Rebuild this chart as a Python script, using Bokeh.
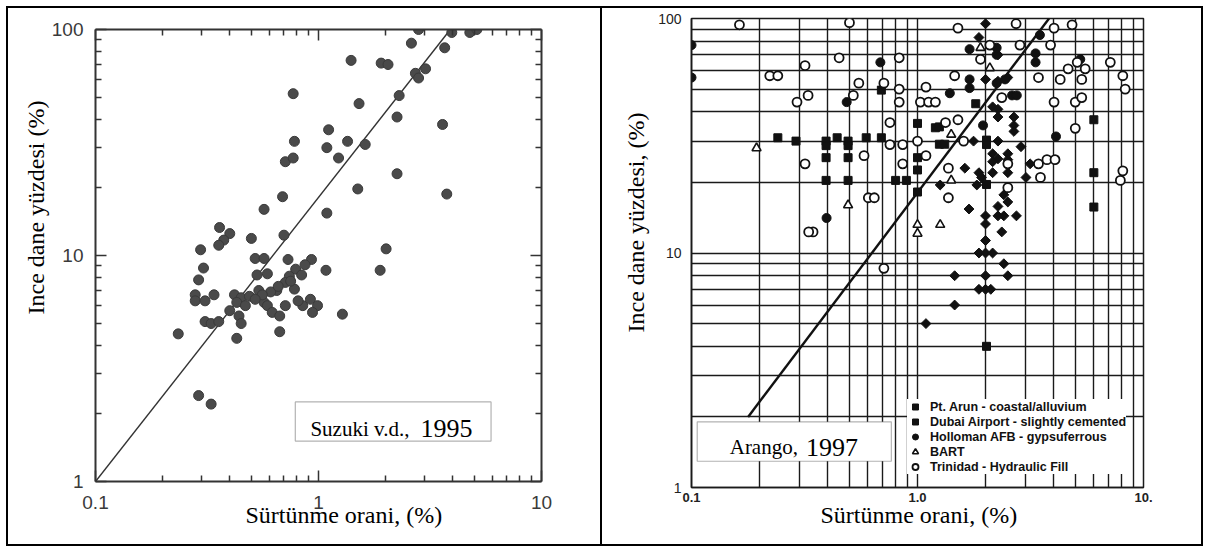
import math
from bokeh.plotting import figure
from bokeh.models import (LogAxis, FixedTicker, Label, BoxAnnotation, Legend, LegendItem,
                          Range1d, Title)
from bokeh.embed import file_html
from bokeh.resources import INLINE

# ------------------------------------------------------------------ data
# Left panel: Suzuki v.d., 1995  (x = friction ratio %, y = fines content %)
suzuki_x = [2.81, 3.96, 4.77, 5.13, 2.61, 3.68, 1.40, 1.91, 2.05, 3.02, 2.72, 2.81,
            0.77, 2.30, 1.52, 2.25, 3.60, 1.11, 0.78, 1.09, 1.35, 1.62, 1.23, 0.71,
            0.77, 2.25, 1.50, 3.76, 0.69, 0.57, 1.09, 0.36, 0.40, 0.376, 0.357, 0.50,
            0.70, 0.296, 2.01, 0.52, 0.57, 0.73, 0.93, 0.305, 1.08, 1.89, 0.87, 0.79,
            0.53, 0.59, 0.74, 0.84, 0.29, 0.71, 0.78, 0.65, 0.61, 0.54, 0.28, 0.28,
            0.34, 0.31, 0.42, 0.45, 0.49, 0.57, 0.59, 0.43, 0.71, 0.85, 0.92, 0.99,
            0.94, 0.62, 0.67, 1.28, 0.40, 0.44, 0.45, 0.31, 0.33, 0.357, 0.235, 0.43,
            0.67, 0.29, 0.33, 0.66, 0.75, 0.56, 0.81, 0.52, 0.47]
suzuki_y = [100, 97, 97, 100, 87, 83, 73, 71, 70, 67, 64, 61,
            52, 51, 47, 41, 38, 36, 32, 30, 32, 31, 27, 26,
            27, 23, 19.7, 18.7, 18.2, 16.0, 15.4, 13.3, 12.5, 11.7, 11.1, 11.9,
            12.3, 10.6, 10.7, 9.7, 9.7, 9.6, 9.6, 8.8, 8.6, 8.6, 9.1, 8.7,
            8.2, 8.3, 8.1, 8.2, 7.8, 7.6, 7.1, 7.0, 6.9, 7.0, 6.7, 6.3,
            6.7, 6.3, 6.7, 6.5, 6.6, 6.2, 6.0, 6.2, 6.0, 6.0, 6.4, 6.0,
            5.6, 5.6, 5.4, 5.5, 5.7, 5.4, 5.0, 5.1, 5.0, 5.1, 4.5, 4.3,
            4.6, 2.4, 2.2, 7.3, 7.7, 6.7, 6.3, 6.4, 6.0]
suzuki_line_x = [0.1, 3.9]
suzuki_line_y = [1, 100]

left_ticks_x = [0.1, 1, 10]
left_labels_x = ["0.1", "1", "10"]
left_ticks_y = [1, 10, 100]
left_labels_y = ["1", "10", "100"]

# Right panel: Arango, 1997
arun_x = [2.0, 1.87, 2.27, 2.0, 2.27, 2.51, 2.15, 2.27, 2.27, 2.67, 2.67, 2.67, 1.77,
          2.27, 2.87, 2.15, 2.27, 2.15, 2.51, 2.51, 2.51, 2.15, 1.62, 1.87, 1.92, 1.83,
          1.26, 3.15, 3.02, 2.41, 2.51, 2.27, 1.69, 2.27, 2.41, 2.74, 2.0, 2.0, 2.36,
          2.0, 1.87, 2.0, 2.15, 2.41, 1.46, 2.0, 2.51, 1.87, 2.0, 2.11, 1.46, 1.09]
arun_y = [95, 83, 70, 55, 54, 56, 42, 41, 38, 38, 35, 33, 30,
          30, 28.4, 26.5, 25.2, 24.5, 26.5, 25, 22, 22, 23, 22, 21, 19.5,
          19.5, 24, 21, 17.7, 16.5, 15.8, 15.4, 14.4, 14.4, 14.4, 14.4, 13.3, 12.3,
          11.3, 10, 10, 10, 9, 8, 8, 8, 7, 7, 7, 6, 5]

dubai_x = [0.241, 0.29, 0.394, 0.394, 0.441, 0.493, 0.493, 0.593, 0.692, 0.394, 0.493,
           0.394, 0.493, 0.692, 1.0, 1.0, 1.0, 0.80, 0.893, 1.0, 1.20, 1.25, 1.25, 1.32,
           1.81, 2.02, 2.02, 2.02, 6.03, 6.03, 6.03, 2.02]
dubai_y = [31, 30, 30, 28.7, 31, 30, 28.7, 31, 31, 25.5, 25.5,
           20.4, 20.4, 49.5, 35.7, 25.5, 22.6, 20.4, 20.4, 18.2, 34.2, 34.5, 29.1, 29.1,
           43.3, 30.3, 29, 19.6, 37, 22, 15.7, 4.0]

holloman_x = [0.1, 0.1, 0.685, 0.486, 0.396, 1.70, 2.24, 3.33, 3.33, 3.48, 1.70, 1.39,
              1.70, 2.44, 2.24, 2.62, 2.75, 1.95, 4.10, 5.25, 2.24]
holloman_y = [77, 56, 65, 44, 14.1, 74, 70, 71, 65, 85, 55, 48,
              50.5, 55, 53, 47, 47, 35, 31.4, 67, 75]

bart_x = [0.194, 0.493, 1.41, 1.41, 1.0, 1.0, 1.26, 2.09, 1.90]
bart_y = [28, 16, 32, 20.4, 13.2, 12.1, 13.2, 61.5, 75]

trinidad_x = [0.163, 0.50, 1.51, 2.73, 4.02, 4.83, 2.09, 2.84, 3.88, 1.90, 0.45, 0.83,
              0.318, 0.222, 0.241, 0.55, 0.71, 1.46, 3.43, 4.28, 4.64, 5.09, 5.52, 5.33,
              7.13, 8.1, 8.3, 0.293, 0.328, 0.52, 0.83, 0.83, 1.09, 1.03, 1.12, 1.20,
              2.36, 4.02, 4.99, 5.33, 1.51, 1.33, 0.755, 4.99, 0.755, 0.86, 1.0, 1.60,
              0.58, 0.318, 0.86, 1.09, 1.37, 2.51, 3.43, 3.74, 4.06, 3.5, 2.51, 8.1,
              7.9, 1.37, 0.606, 0.644, 0.345, 0.33, 0.71]
trinidad_y = [94, 96, 91, 95, 91, 94, 77, 77, 77, 67, 68, 68,
              63, 57, 57, 53, 53, 57, 56, 55, 61, 65, 61, 55,
              65, 57, 50, 44, 47, 47, 50, 44, 51, 44, 44, 44,
              46, 44, 44, 46, 37, 36, 36, 34, 29, 29, 30, 30,
              26, 24, 24, 26, 23, 24, 24, 25, 25, 21, 19, 22.4,
              20.4, 17.2, 17.2, 17.2, 12.3, 12.3, 8.6]

arango_line_x = [0.178, 3.82]
arango_line_y = [2, 100]

right_ticks_x = [0.1, 1, 10]
right_labels_x = ["0.1", "1.0", "10."]
right_ticks_y = [1, 10, 100]
right_labels_y = ["1", "10", "100"]

legend_labels = ["Pt. Arun - coastal/alluvium", "Dubai Airport - slightly cemented",
                 "Holloman AFB - gypsuferrous", "BART", "Trinidad - Hydraulic Fill"]

x_title = "Sürtünme orani, (%)"
y_title_left = "Ince dane yüzdesi (%)"
y_title_right = "Ince dane yüzdesi, (%)"

# ------------------------------------------------------------------ helpers
def minor_between(lo_exp, hi_exp):
    return [m * 10.0 ** e for e in range(lo_exp, hi_exp) for m in range(2, 10)]

SERIF = "Liberation Serif"
SANS = "Liberation Sans"
INK = "#1a1a1a"

def axis_title(text, offset, standoff):
    return Title(text=text, align="left", offset=offset, standoff=standoff,
                 text_font=SERIF, text_font_size="24px", text_font_style="normal",
                 text_color="black")

# ------------------------------------------------------------------ left panel
p1 = figure(width=592, height=536, x_axis_type="log", y_axis_type="log",
            x_range=Range1d(0.1, 10), y_range=Range1d(1, 100), title=None,
            output_backend="svg", toolbar_location=None,
            min_border_left=87, min_border_right=63, min_border_top=21, min_border_bottom=67)
p1.styles = {"position": "absolute", "left": "6px", "top": "6px",
             "border": "2px solid black", "box-sizing": "content-box"}
p1.grid.visible = False
p1.outline_line_color = None
p1.background_fill_color = "white"

xt1 = FixedTicker(ticks=left_ticks_x, minor_ticks=minor_between(-1, 1))
yt1 = FixedTicker(ticks=left_ticks_y, minor_ticks=minor_between(0, 2))

def style_left_axis(ax, show_labels):
    ax.axis_line_color = "#333333"
    ax.axis_line_width = 2
    ax.major_tick_in = 11
    ax.major_tick_out = 0
    ax.minor_tick_in = 6
    ax.minor_tick_out = 0
    ax.major_tick_line_color = "#333333"
    ax.major_tick_line_width = 1.5
    ax.minor_tick_line_color = "#333333"
    ax.minor_tick_line_width = 1.5
    if show_labels:
        ax.major_label_text_font = SANS
        ax.major_label_text_font_size = "19px"
        ax.major_label_text_color = "#3a3a3a"
    else:
        ax.major_label_text_font_size = "8px"
        ax.major_label_text_alpha = 0.0
        ax.major_label_standoff = 2

p1.xaxis.ticker = xt1
p1.yaxis.ticker = yt1
p1.xaxis.major_label_overrides = dict(zip(left_ticks_x, left_labels_x))
p1.yaxis.major_label_overrides = dict(zip(left_ticks_y, left_labels_y))
style_left_axis(p1.xaxis[0], True)
style_left_axis(p1.yaxis[0], True)
p1.xaxis.major_label_standoff = 14
p1.yaxis.major_label_standoff = 12

top1 = LogAxis(ticker=xt1)
right1 = LogAxis(ticker=yt1)
style_left_axis(top1, False)
style_left_axis(right1, False)
p1.add_layout(top1, "above")
p1.add_layout(right1, "right")

p1.add_layout(axis_title(y_title_left, 167, 0), "left")
p1.add_layout(axis_title(x_title, 150, -24), "below")

p1.line(suzuki_line_x, suzuki_line_y, line_color="#333333", line_width=1.4)
p1.scatter(suzuki_x, suzuki_y, marker="circle", size=10,
           fill_color="#4a4a4a", line_color="#3a3a3a", line_width=1)

p1.add_layout(BoxAnnotation(left=0.787, right=5.94, bottom=1.51, top=2.25,
                            fill_color="white", fill_alpha=1.0,
                            line_color="black", line_width=1.2))
p1.add_layout(Label(x=0.92, y=1.71, text="Suzuki v.d.,", text_font=SERIF,
                    text_font_size="21px", text_color="black", text_baseline="alphabetic"))
p1.add_layout(Label(x=2.87, y=1.71, text="1995", text_font=SERIF,
                    text_font_size="26px", text_color="black", text_baseline="alphabetic"))

# ------------------------------------------------------------------ right panel
p2 = figure(width=599, height=536, x_axis_type="log", y_axis_type="log",
            x_range=Range1d(0.1, 10), y_range=Range1d(1, 100), title=None,
            output_backend="svg", toolbar_location=None,
            min_border_left=89, min_border_right=60, min_border_top=10, min_border_bottom=61)
p2.styles = {"position": "absolute", "left": "602px", "top": "6px",
             "border": "2px solid black", "border-left": "none", "box-sizing": "content-box"}
p2.outline_line_color = INK
p2.outline_line_width = 1.5

xt2 = FixedTicker(ticks=right_ticks_x, minor_ticks=minor_between(-1, 1))
yt2 = FixedTicker(ticks=right_ticks_y, minor_ticks=minor_between(0, 2))
p2.xaxis.ticker = xt2
p2.yaxis.ticker = yt2
p2.xaxis.major_label_overrides = dict(zip(right_ticks_x, right_labels_x))
p2.yaxis.major_label_overrides = dict(zip(right_ticks_y, right_labels_y))
for ax in (p2.xaxis[0], p2.yaxis[0]):
    ax.axis_line_color = INK
    ax.axis_line_width = 1.6
    ax.major_tick_in = 0
    ax.major_tick_out = 0
    ax.minor_tick_out = 0
    ax.major_label_text_font = SANS
    ax.major_label_text_color = "#222222"
p2.xaxis.minor_tick_in = 4
p2.xaxis.minor_tick_line_color = INK
p2.yaxis.minor_tick_in = 0
p2.xaxis.major_label_text_font_size = "13px"
p2.xaxis.major_label_text_font_style = "bold"
p2.xaxis.major_label_standoff = 5
p2.yaxis.major_label_text_font_size = "14px"
p2.yaxis.major_label_standoff = 10

p2.add_layout(axis_title(y_title_right, 155, 14), "left")
p2.add_layout(axis_title(x_title, 129, -10), "below")

p2.xgrid.ticker = FixedTicker(ticks=right_ticks_x + minor_between(-1, 1))
p2.ygrid.ticker = FixedTicker(ticks=right_ticks_y + minor_between(0, 2))
p2.grid.grid_line_color = INK
p2.grid.grid_line_width = 1.4
p2.grid.grid_line_alpha = 1.0

p2.line(arango_line_x, arango_line_y, line_color="#111111", line_width=2.4)

r_arun = p2.scatter(arun_x, arun_y, marker="square", angle=math.pi / 4, size=7,
                    fill_color="#111111", line_color="#111111")
r_dubai = p2.scatter(dubai_x, dubai_y, marker="square", size=8,
                     fill_color="#111111", line_color="#111111")
r_holl = p2.scatter(holloman_x, holloman_y, marker="circle", size=9,
                    fill_color="#111111", line_color="#111111")
r_bart = p2.scatter(bart_x, bart_y, marker="triangle", size=9,
                    fill_color="white", line_color="#111111", line_width=1.6)
r_trin = p2.scatter(trinidad_x, trinidad_y, marker="circle", size=9,
                    fill_color="white", line_color="#111111", line_width=1.8)

legend = Legend(items=[LegendItem(label=lab, renderers=[r]) for lab, r in
                       zip(legend_labels, [r_arun, r_dubai, r_holl, r_bart, r_trin])],
                location=(216, 13), background_fill_color="white", background_fill_alpha=1.0,
                border_line_color=None, label_text_font=SANS, label_text_font_style="bold",
                label_text_font_size="12.5px", label_text_color="#111111",
                glyph_height=15, glyph_width=16, label_height=15, spacing=0,
                padding=5, margin=0, label_standoff=7)
p2.add_layout(legend)

p2.add_layout(BoxAnnotation(left=0.106, right=0.766, bottom=1.294, top=1.905,
                            fill_color="white", fill_alpha=1.0,
                            line_color="black", line_width=1.2))
p2.add_layout(Label(x=0.1476, y=1.486, text="Arango,", text_font=SERIF,
                    text_font_size="21px", text_color="black", text_baseline="alphabetic"))
p2.add_layout(Label(x=0.321, y=1.486, text="1997", text_font=SERIF,
                    text_font_size="26px", text_color="black", text_baseline="alphabetic"))

open("out.html", "w").write(file_html([p1, p2], INLINE))
